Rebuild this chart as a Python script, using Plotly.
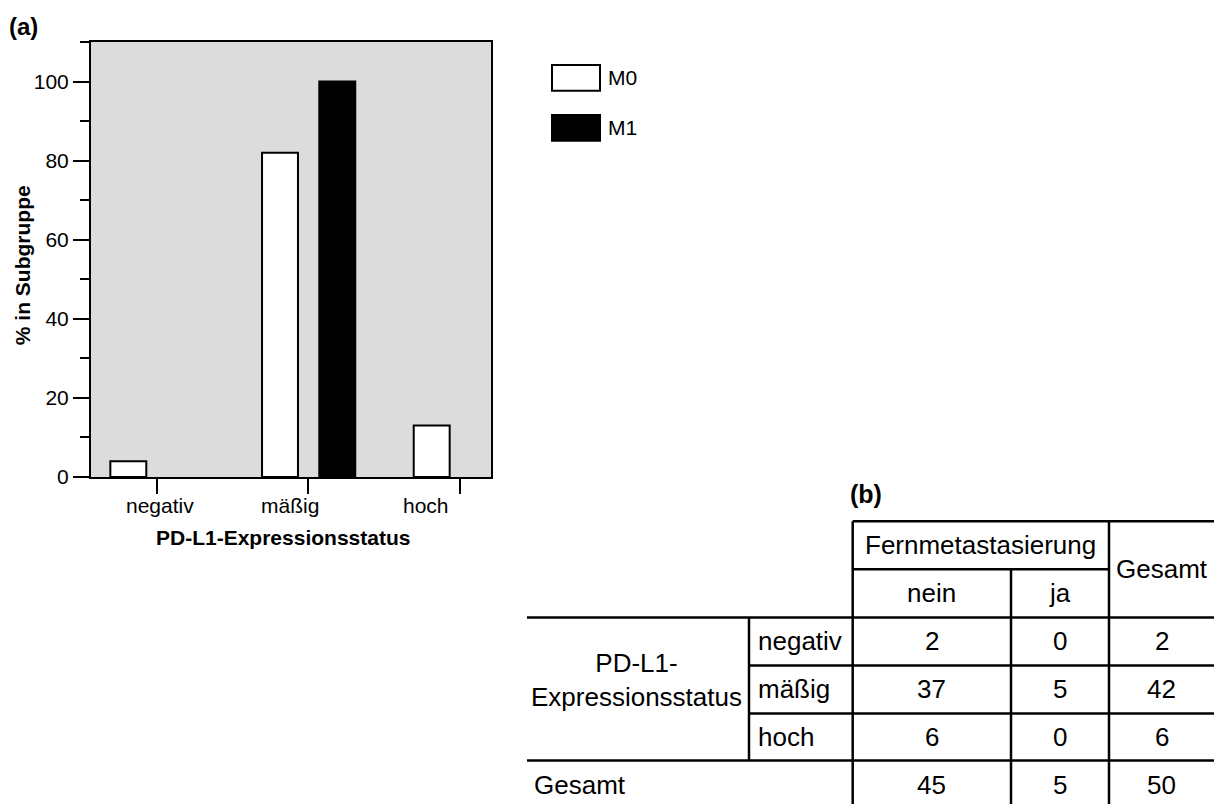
import plotly.graph_objects as go

# --- data -------------------------------------------------------------
categories = ["negativ", "mäßig", "hoch"]
m0_pct = [4.0, 82.0, 13.0]      # % in Subgruppe, M0
m1_pct = [0.0, 100.0, 0.0]      # % in Subgruppe, M1

row_labels = ["negativ", "mäßig", "hoch"]
nein_counts = [2, 37, 6]
ja_counts = [0, 5, 0]
row_totals = [2, 42, 6]
col_totals = [45, 5, 50]

# --- page geometry (pixels) -------------------------------------------
W, H = 1214, 804
PL, PR, PT, PB = 91, 491, 42, 476.7   # plot area edges


def fx(x):
    return (x - PL) / (PR - PL)


def fy(y):
    return (PB - y) / (PB - PT)


FONT = "Liberation Sans, Arial, sans-serif"
xpos = list(range(len(categories)))

fig = go.Figure()
fig.add_trace(go.Bar(
    x=xpos, y=m0_pct, name="M0", width=0.237, offset=-0.3055,
    marker=dict(color="white",
                line=dict(color="black", width=[2 if v else 0 for v in m0_pct])),
    showlegend=False,
))
fig.add_trace(go.Bar(
    x=xpos, y=m1_pct, name="M1", width=0.237, offset=0.072,
    marker=dict(color="black",
                line=dict(color="black", width=[2 if v else 0 for v in m1_pct])),
    showlegend=False,
))

fig.update_layout(
    width=W, height=H,
    margin=dict(l=PL, r=W - PR, t=PT, b=H - PB, pad=0),
    paper_bgcolor="white", plot_bgcolor="#dcdcdc",
    font=dict(family=FONT, size=21, color="black"),
    barmode="overlay",
)
fig.update_xaxes(
    range=[-0.433, 2.204], tickvals=xpos, ticktext=["", "", ""],
    ticks="outside", ticklen=15, tickwidth=2, tickcolor="black",
    showline=True, linecolor="black", linewidth=2, mirror=True,
    showgrid=False, zeroline=False,
)
fig.update_yaxes(
    range=[0, 110], tickvals=[0, 20, 40, 60, 80, 100],
    ticks="outside", ticklen=16, tickwidth=2, tickcolor="black",
    minor=dict(dtick=10, tick0=0, ticks="outside", ticklen=9, tickwidth=2,
               tickcolor="black", showgrid=False),
    showline=True, linecolor="black", linewidth=2, mirror=True,
    showgrid=False, zeroline=False, tickfont=dict(size=21),
)

ann = []
# category labels under the ticks
label_shift = [3, -18, -34]
for i, c in enumerate(categories):
    ann.append(dict(x=i, y=fy(505), xref="x", yref="paper", text=c,
                    showarrow=False, xshift=label_shift[i],
                    xanchor="center", yanchor="middle", font=dict(size=21)))
# axis titles and panel letters
ann.append(dict(x=fx(283), y=fy(537), xref="paper", yref="paper",
                text="<b>PD-L1-Expressionsstatus</b>", showarrow=False,
                xanchor="center", yanchor="middle", font=dict(size=21)))
ann.append(dict(x=fx(22), y=fy(265), xref="paper", yref="paper",
                text="<b>% in Subgruppe</b>", showarrow=False, textangle=-90,
                xanchor="center", yanchor="middle", font=dict(size=21)))
ann.append(dict(x=fx(23.5), y=fy(27), xref="paper", yref="paper",
                text="<b>(a)</b>", showarrow=False,
                xanchor="center", yanchor="middle", font=dict(size=24)))
ann.append(dict(x=fx(865.5), y=fy(494), xref="paper", yref="paper",
                text="<b>(b)</b>", showarrow=False,
                xanchor="center", yanchor="middle", font=dict(size=25)))

shapes = []
# legend boxes
legend_items = [("M0", "white", 65, 90.7), ("M1", "black", 115, 140.7)]
for name, col, y0, y1 in legend_items:
    shapes.append(dict(type="rect", xref="paper", yref="paper",
                       x0=fx(552), x1=fx(600), y0=fy(y1), y1=fy(y0),
                       fillcolor=col, line=dict(color="black", width=2)))
    ann.append(dict(x=fx(606), y=fy((y0 + y1) / 2), xref="paper",
                    yref="paper", text=name, showarrow=False,
                    xanchor="left", yanchor="middle", font=dict(size=21)))

# --- crosstab -----------------------------------------------------------
TL, C1, C2, C3, C4, TR = 527, 749, 852.7, 1011, 1109, 1214
R0, R1, R2, R3, R4, R5, R6 = 521, 569, 617, 665, 713, 760, 808


def hline(y, x0, x1):
    shapes.append(dict(type="line", xref="paper", yref="paper",
                       x0=fx(x0), x1=fx(x1), y0=fy(y), y1=fy(y),
                       line=dict(color="black", width=2.5)))


def vline(x, y0, y1):
    shapes.append(dict(type="line", xref="paper", yref="paper",
                       x0=fx(x), x1=fx(x), y0=fy(y0), y1=fy(y1),
                       line=dict(color="black", width=2.5)))


hline(R0, C2, TR)
hline(R1, C2, C4)
hline(R2, TL, TR)
hline(R3, C1, TR)
hline(R4, C1, TR)
hline(R5, TL, TR)
vline(C1, R2, R5)
vline(C2, R0, H)
vline(C3, R1, H)
vline(C4, R0, H)

TF = 26


def cell(x, y, text, anchor="center", size=TF):
    ann.append(dict(x=fx(x), y=fy(y), xref="paper", yref="paper", text=text,
                    showarrow=False, xanchor=anchor, yanchor="middle",
                    font=dict(size=size)))


cell((C2 + C4) / 2, (R0 + R1) / 2, "Fernmetastasierung")
cell((C4 + TR) / 2, R1, "Gesamt")
cell((C2 + C3) / 2, (R1 + R2) / 2, "nein")
cell((C3 + C4) / 2, (R1 + R2) / 2, "ja")
cell(636, 680, "PD-L1-<br>Expressionsstatus")
rows_y = [(R2 + R3) / 2, (R3 + R4) / 2, (R4 + R5) / 2]
for i, lab in enumerate(row_labels):
    cell(C1 + 7, rows_y[i], lab, anchor="left")
    cell((C2 + C3) / 2, rows_y[i], str(nein_counts[i]))
    cell((C3 + C4) / 2, rows_y[i], str(ja_counts[i]))
    cell((C4 + TR) / 2, rows_y[i], str(row_totals[i]))
last_y = (R5 + R6) / 2
cell(TL + 5, last_y, "Gesamt", anchor="left")
cell((C2 + C3) / 2, last_y, str(col_totals[0]))
cell((C3 + C4) / 2, last_y, str(col_totals[1]))
cell((C4 + TR) / 2, last_y, str(col_totals[2]))

fig.update_layout(annotations=ann, shapes=shapes)
fig.write_html("out.html")
